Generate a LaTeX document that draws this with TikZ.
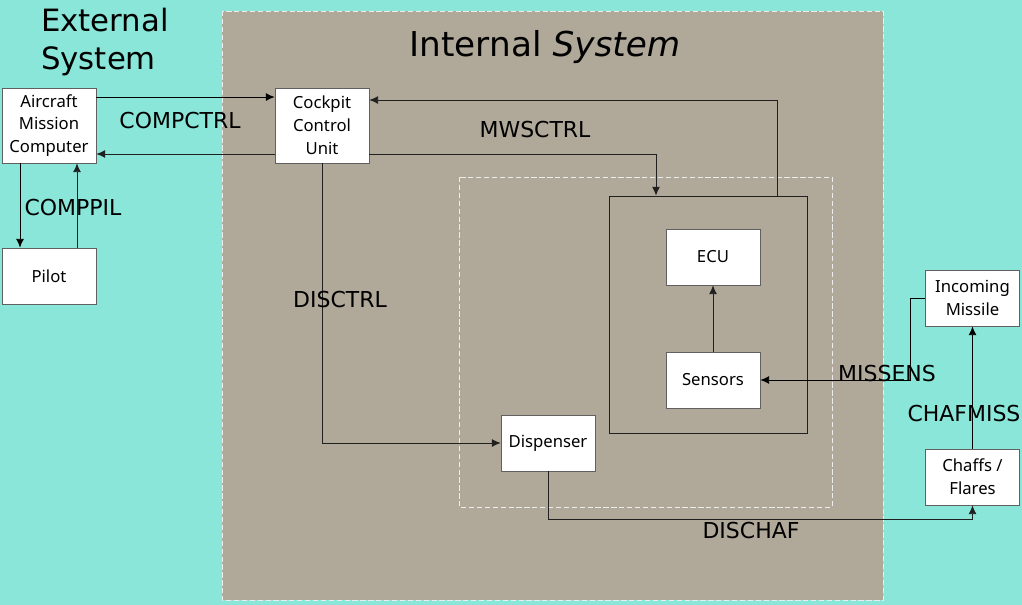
\documentclass[tikz,border=0pt]{standalone}
\usepackage{fontspec}
\setmainfont{DejaVu Sans}
\newfontfamily\boxfont{Noto Sans}
\usetikzlibrary{arrows,arrows.meta,calc,positioning}
\definecolor{outside}{RGB}{137,230,216}
\definecolor{inside}{RGB}{176,168,153}
\tikzset{>={Latex[length=5pt,width=4.5pt]}, block/.style = {draw=gray!75!black, fill=white,
      font=\boxfont\fontsize{9.5}{13}\selectfont, align=center,
      minimum width=1.88cm, inner sep=1pt},%
    tall/.style = {block, minimum height=1.5cm},%
    short/.style = {block, minimum height=1.12cm},%
    flow/.style = {font=\fontsize{12.5}{14}\selectfont, inner sep=0pt},%
    link/.style = {->, line width=0.5pt, gray!25!black},%
    zone/.style = {draw=white!85!gray, dash pattern=on 3pt off 1.5pt}}

\begin{document}
\begin{tikzpicture}[x=0.02cm,y=-0.02cm]
    \useasboundingbox (0,0) rectangle (1022,605);
    \fill[outside] (0,0) rectangle (1022,605);
    \fill[inside] (222,11) rectangle (883,600);
    \draw[zone] (222,11) rectangle (883,600);
    \draw[zone] (459,177) rectangle (832,507);
    \node[draw, line width=0.5pt, gray!25!black, minimum width=3.96cm, minimum height=4.74cm] (mws) at (708,314.5) {};
    \node[anchor=west, align=left, font=\fontsize{17.5}{21.5}\selectfont] (ext) at (35,42) {External\\System};
    \node[font=\fontsize{19.5}{22}\selectfont] (int) at (545,47) {Internal \textit{System}};
    % blocks
    \node[tall] (amc) at (49,125.5) {Aircraft\\Mission\\Computer};
    \node[tall] (ccu) at (322,125.5) {Cockpit\\Control\\Unit};
    \node[short] (pilot) at (49,276) {Pilot};
    \node[short] (ecu) at (713,257) {ECU};
    \node[short] (sens) at (713,380) {Sensors};
    \node[short] (disp) at (548,443) {Dispenser};
    \node[short] (miss) at (972.5,298) {Incoming\\Missile};
    \node[short] (chaff) at (972.5,477) {Chaffs /\\Flares};
    % connectors
    \draw[link, black] ([yshift=0.57cm]amc.east) -- ([yshift=0.57cm]ccu.west);
    \draw[link] ([yshift=-0.57cm]ccu.west) -- ([yshift=-0.57cm]amc.east);
    \draw[link, black] ([xshift=-0.58cm]amc.south) -- ([xshift=-0.58cm]pilot.north);
    \draw[link] ([xshift=0.56cm]pilot.north) -- ([xshift=0.56cm]amc.south);
    \draw[link] ([yshift=-0.57cm]ccu.east) -| ([xshift=-1.04cm]mws.north);
    \draw[link] ([xshift=1.38cm]mws.north) |- ([yshift=0.51cm]ccu.east);
    \draw[link] (ccu.south) |- (disp.west);
    \draw[link] (sens.north) -- (ecu.south);
    \draw[link, black] (miss.west) -- ++(-15,0) |- (sens.east);
    \draw[link, black] (chaff.north) -- (miss.south);
    \draw[link] (disp.south) -- ++(0,48) -| (chaff.south);
    % labels
    \node[flow] (compctrl) at (180,121) {COMPCTRL};
    \node[flow] (comppil) at (73,208) {COMPPIL};
    \node[flow] (mwsctrl) at (535,130) {MWSCTRL};
    \node[flow] (disctrl) at (340,300) {DISCTRL};
    \node[flow] (missens) at (887,374) {MISSENS};
    \node[flow] (chafmiss) at (964,414) {CHAFMISS};
    \node[flow] (dischaf) at (751,531) {DISCHAF};
\end{tikzpicture}
\end{document}
